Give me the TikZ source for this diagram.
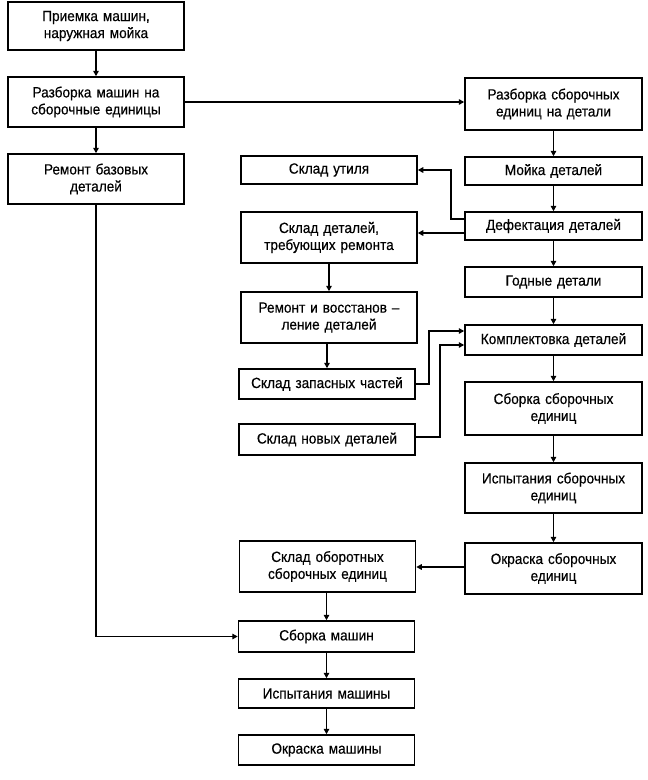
\documentclass[tikz,border=0pt]{standalone}
\usepackage{fontspec}
\setmainfont{Liberation Sans}
\newfontfamily\boxfont{Liberation Sans}[FakeStretch=0.92,FakeBold=0.4,Ligatures=TeX]
\usetikzlibrary{arrows.meta}
\begin{document}
\begin{tikzpicture}[x=1pt,y=-1pt,
  box/.style={draw, line width=1.5pt, align=center, inner sep=2pt,
    font=\boxfont\fontsize{14.8}{17}\selectfont, text width=#1},
  box/.default=172pt,
  lbox/.style={box, minimum width=176pt},
  mbox/.style={box, minimum width=176pt},
  rbox/.style={box, minimum width=177pt},
  arr/.style={line width=1.4pt, -{Triangle[length=5.5pt,width=5.5pt]}}]
\useasboundingbox (0,0) rectangle (648,780);
% left column
\node[lbox, minimum height=48pt] (n1) at (96,26) {Приемка машин,\\наружная мойка};
\node[lbox, minimum height=50pt] (n2) at (96,102) {Разборка машин на\\сборочные единицы};
\node[lbox, minimum height=50pt] (n3) at (96,179) {Ремонт базовых\\деталей};
% right column
\node[rbox, minimum height=52pt] (r1) at (553.5,104) {Разборка сборочных\\единиц на детали};
\node[rbox, minimum height=28pt] (r2) at (553.5,171) {Мойка деталей};
\node[rbox, minimum height=28pt] (r3) at (553.5,226) {Дефектация деталей};
\node[rbox, minimum height=30pt] (r4) at (553.5,282) {Годные детали};
\node[rbox, minimum height=30pt] (r5) at (553.5,340) {Комплектовка деталей};
\node[rbox, minimum height=53pt] (r6) at (553.5,408.5) {Сборка сборочных\\единиц};
\node[rbox, minimum height=50pt] (r7) at (553.5,488) {Испытания сборочных\\единиц};
\node[rbox, minimum height=51pt] (r8) at (553.5,568.5) {Окраска сборочных\\единиц};
% middle column
\node[mbox, minimum height=28pt] (m1) at (329,170) {Склад утиля};
\node[mbox, minimum height=51pt] (m2) at (329,237.5) {Склад деталей,\\требующих ремонта};
\node[mbox, minimum height=51pt] (m3) at (329,317.5) {Ремонт и восстанов –\\ление деталей};
\node[mbox, minimum height=30pt] (m4) at (327,384) {Склад запасных частей};
\node[mbox, minimum height=31pt] (m5) at (327,439.5) {Склад новых деталей};
\node[mbox, minimum height=51pt] (m6) at (327.5,566.5) {Склад оборотных\\сборочных единиц};
\node[mbox, minimum height=31pt] (b1) at (326.5,636.5) {Сборка машин};
\node[mbox, minimum height=29pt] (b2) at (326.5,693.5) {Испытания машины};
\node[mbox, minimum height=30pt] (b3) at (326.5,750) {Окраска машины};
% junction coordinates
\coordinate (j1) at (451,0);
\coordinate (j2) at (429,0);
\coordinate (j3) at (440,0);
\coordinate (r3a) at ([yshift=7pt]r3.west);
\coordinate (r3b) at ([yshift=-7pt]r3.west);
\coordinate (r5a) at ([yshift=9pt]r5.west);
\coordinate (r5b) at ([yshift=-5pt]r5.west);
\coordinate (m5a) at ([yshift=2.5pt]m5.east);
\coordinate (r8a) at ([yshift=1.5pt]r8.west);
% connectors
\draw[arr] (n1) -- (n2);
\draw[arr] (n2) -- (n3);
\draw[arr] (n2.east) -- (n2.east -| r1.west);
\draw[arr] (r1) -- (r2);
\draw[arr] (r2) -- (r3);
\draw[arr] (r3) -- (r4);
\draw[arr] (r4) -- (r5);
\draw[arr] (r5) -- (r6);
\draw[arr] (r6) -- (r7);
\draw[arr] (r7) -- (r8);
\draw[arr] (r3a) -| (j1 |- m1.east) -- (m1.east);
\draw[arr] (r3b) -- (r3b -| m2.east);
\draw[arr] (m2.south -| m3.north) -- (m3.north);
\draw[arr] (m3.south -| m4.north) -- (m4.north);
\draw[arr] (m4.east) -| (j2 |- r5a) -- (r5a);
\draw[arr] (m5a) -| (j3 |- r5b) -- (r5b);
\draw[arr] (r8a) -- (r8a -| m6.east);
\draw[arr] (m6.south -| b1.north) -- (b1.north);
\draw[arr] (n3.south) |- (b1.west);
\draw[arr] (b1) -- (b2);
\draw[arr] (b2) -- (b3);
\end{tikzpicture}
\end{document}
